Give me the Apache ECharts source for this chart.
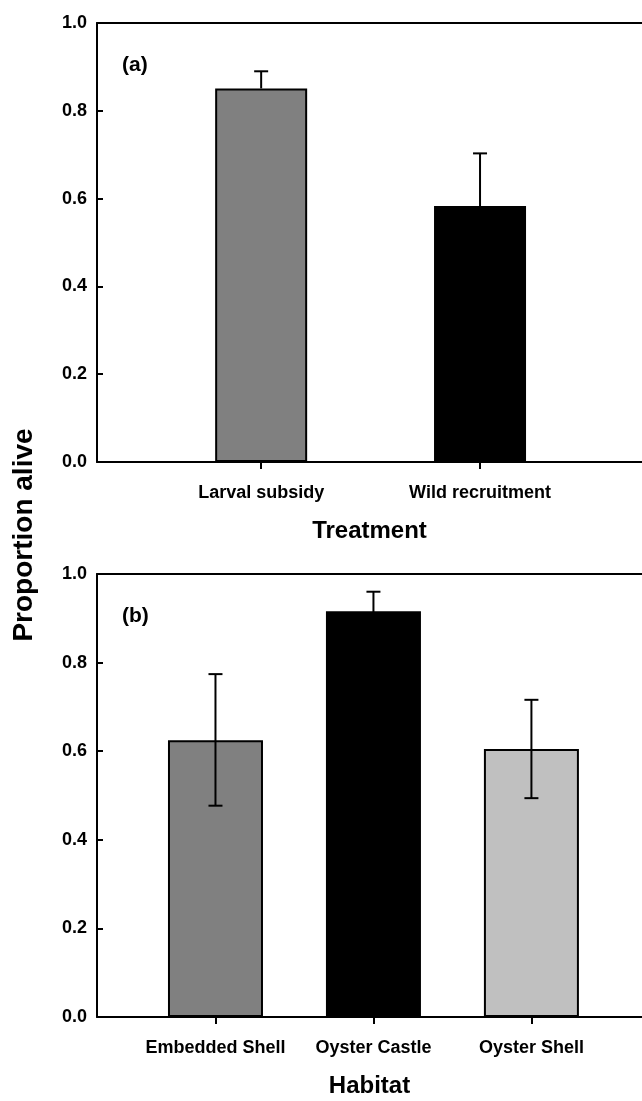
<!DOCTYPE html>
<html><head><meta charset="utf-8">
<script src="https://cdn.jsdelivr.net/npm/echarts@6/dist/echarts.min.js"></script>
<style>html,body{margin:0;padding:0;background:#fff}#c{width:642px;height:1101px}</style>
</head><body><div id="c"></div>
<script>
// ---- data ----
const treatmentCategories = ['Larval subsidy', 'Wild recruitment'];
const treatmentMeans = [0.851, 0.583];
const treatmentUpper = [0.890, 0.703];

const habitatCategories = ['Embedded Shell', 'Oyster Castle', 'Oyster Shell'];
const habitatMeans = [0.625, 0.916, 0.605];
const habitatUpper = [0.774, 0.960, 0.716];
const habitatLower = [0.477, 0.872, 0.494];

const yTicks = [0, 0.2, 0.4, 0.6, 0.8, 1.0];
const panelLabels = ['(a)', '(b)'];
const xTitles = ['Treatment', 'Habitat'];
const yTitle = 'Proportion alive';

// ---- styles / layout ----
const FONT = '"Liberation Sans", Arial, sans-serif';
const treatmentColors = ['#808080', '#000000'];
const habitatColors = ['#808080', '#000000', '#c0c0c0'];

const panels = [
  { cats: treatmentCategories, means: treatmentMeans, upper: treatmentUpper, lower: null,
    colors: treatmentColors, grid: { left: 97, top: 23, right: 0, height: 439 }, xMax: 1.74, barWidth: 92 },
  { cats: habitatCategories, means: habitatMeans, upper: habitatUpper, lower: habitatLower,
    colors: habitatColors, grid: { left: 97, top: 574, right: 0, height: 443 }, xMax: 2.70, barWidth: 95 }
];

const chart = echarts.init(document.getElementById('c'), null, { renderer: 'canvas' });

const axisLineStyle = { color: '#000', width: 2 };
const grids = [], xAxes = [], yAxes = [], series = [], graphics = [];
panels.forEach((p, i) => {
  const idx = p.cats.map((_, j) => j);
  grids.push(Object.assign({ show: false, containLabel: false }, p.grid));
  xAxes.push({
    type: 'value', gridIndex: i, min: -0.75, max: p.xMax, position: 'bottom',
    splitLine: { show: false },
    axisLine: { show: true, onZero: false, lineStyle: axisLineStyle },
    axisTick: { show: true, customValues: idx, length: 7, inside: false, lineStyle: axisLineStyle },
    axisLabel: { customValues: idx, formatter: v => p.cats[Math.round(v)], fontSize: 18, fontWeight: 'bold',
      color: '#000', margin: 22, fontFamily: FONT },
    name: xTitles[i], nameLocation: 'middle', nameGap: 57,
    nameTextStyle: { fontSize: 24, fontWeight: 'bold', color: '#000', fontFamily: FONT }
  });
  // top frame line
  xAxes.push({
    type: 'value', gridIndex: i, min: -0.75, max: p.xMax, position: 'top',
    splitLine: { show: false },
    axisLine: { show: true, onZero: false, lineStyle: axisLineStyle },
    axisTick: { show: false }, axisLabel: { show: false }
  });
  yAxes.push({
    type: 'value', gridIndex: i, min: 0, max: 1, interval: 0.2,
    splitLine: { show: false },
    axisLine: { show: true, onZero: false, lineStyle: axisLineStyle },
    axisTick: { show: true, inside: true, length: 6, customValues: yTicks, lineStyle: axisLineStyle },
    axisLabel: { customValues: yTicks, formatter: v => v.toFixed(1), fontSize: 18, fontWeight: 'bold',
      color: '#000', margin: 10, fontFamily: FONT }
  });
  const xi = i * 2;
  series.push({
    type: 'bar', xAxisIndex: xi, yAxisIndex: i, barWidth: p.barWidth,
    itemStyle: { borderColor: '#000', borderWidth: 2 },
    data: p.means.map((m, j) => ({ value: [j, m], itemStyle: { color: p.colors[j] } })),
    z: 2
  });
  const hasLower = !!p.lower;
  series.push({
    type: 'custom', xAxisIndex: xi, yAxisIndex: i, z: 5,
    data: p.means.map((m, j) => [j, p.upper[j], hasLower ? p.lower[j] : m]),
    renderItem: (params, api) => {
      const x = api.value(0), hi = api.value(1), lo = api.value(2);
      const top = api.coord([x, hi]);
      const bot = api.coord([x, lo]);
      const hw = 7;
      const st = { stroke: '#000', lineWidth: 2 };
      const children = [
        { type: 'line', shape: { x1: top[0], y1: top[1], x2: bot[0], y2: bot[1] }, style: st },
        { type: 'line', shape: { x1: top[0] - hw, y1: top[1], x2: top[0] + hw, y2: top[1] }, style: st }
      ];
      if (hasLower) children.push({ type: 'line', shape: { x1: bot[0] - hw, y1: bot[1], x2: bot[0] + hw, y2: bot[1] }, style: st });
      return { type: 'group', children };
    }
  });
  graphics.push({ type: 'text', x: 122, y: p.grid.top + 32, style: { text: panelLabels[i], fill: '#000',
    font: 'bold 21px ' + FONT, textVerticalAlign: 'top' } });
});
graphics.push({ type: 'text', x: 24, y: 535, rotation: Math.PI / 2,
  style: { text: yTitle, fill: '#000', font: 'bold 28px ' + FONT, textAlign: 'center', textVerticalAlign: 'middle' } });

chart.setOption({
  animation: false,
  backgroundColor: '#fff',
  grid: grids, xAxis: xAxes, yAxis: yAxes, series: series, graphic: graphics
});
</script></body></html>
